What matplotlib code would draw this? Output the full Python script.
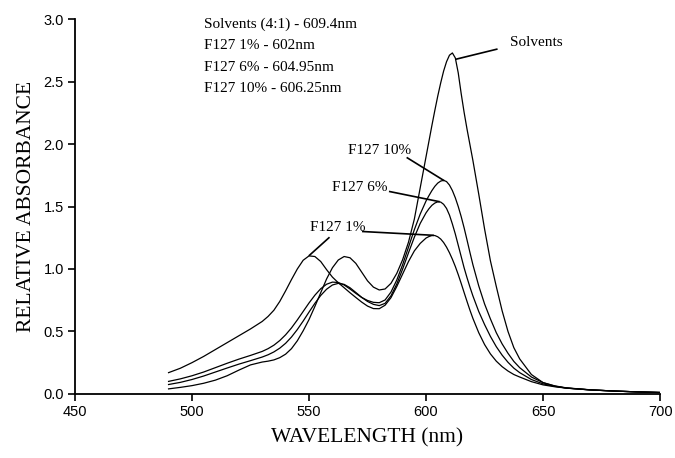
import matplotlib
matplotlib.use('Agg')
import matplotlib.pyplot as plt

plt.rcParams.update({'font.family': 'serif',
                     'font.serif': ['Liberation Serif', 'DejaVu Serif'],
                     'font.sans-serif': ['Liberation Sans', 'DejaVu Sans']})

# wavelength grid (nm) the curves were read at, finer near the red peaks
wavelength = [490, 495, 500, 505, 510, 515, 520, 525, 530,
              532.5, 535, 537.5, 540, 542.5, 545, 547.5, 550, 552.5, 555,
              557.5, 560, 562.5, 565, 567.5, 570, 572.5, 575, 577.5, 580,
              582.5, 585, 587.5, 590, 592.5, 595, 597.5, 600,
              601.25, 602.5, 603.75, 605, 606.25, 607.5, 608.75, 610,
              611.25, 612.5, 613.75, 615, 616.25, 617.5, 618.75, 620,
              622.5, 625, 627.5, 630, 632.5, 635, 637.5, 640,
              645, 650, 655, 660, 670, 680, 690, 700]

solvents = [0.040, 0.052, 0.066, 0.085, 0.110, 0.145, 0.190, 0.232, 0.255,
            0.262, 0.272, 0.290, 0.318, 0.362, 0.425, 0.505, 0.595, 0.700, 0.810,
            0.920, 1.010, 1.072, 1.100, 1.090, 1.045, 0.975, 0.905, 0.855, 0.832,
            0.840, 0.885, 0.965, 1.075, 1.215, 1.400, 1.650, 1.900,
            2.025, 2.150, 2.270, 2.385, 2.490, 2.585, 2.660, 2.712,
            2.730, 2.690, 2.570, 2.405, 2.255, 2.120, 1.995, 1.870,
            1.600, 1.320, 1.065, 0.860, 0.665, 0.500, 0.370, 0.280,
            0.155, 0.090, 0.062, 0.046, 0.032, 0.023, 0.016, 0.011]

f127_1 = [0.170, 0.205, 0.250, 0.300, 0.355, 0.410, 0.465, 0.520, 0.580,
          0.620, 0.670, 0.740, 0.825, 0.915, 1.000, 1.070, 1.105, 1.100, 1.060,
          0.995, 0.935, 0.890, 0.850, 0.810, 0.772, 0.735, 0.703, 0.683, 0.682,
          0.710, 0.770, 0.860, 0.960, 1.060, 1.145, 1.205, 1.248,
          1.260, 1.268, 1.268, 1.258, 1.240, 1.212, 1.175, 1.130,
          1.078, 1.020, 0.955, 0.885, 0.812, 0.740, 0.670, 0.605,
          0.490, 0.395, 0.320, 0.262, 0.218, 0.183, 0.155, 0.135,
          0.098, 0.072, 0.057, 0.046, 0.032, 0.023, 0.016, 0.011]

f127_6 = [0.075, 0.092, 0.115, 0.143, 0.175, 0.207, 0.238, 0.266, 0.295,
          0.313, 0.336, 0.366, 0.405, 0.455, 0.515, 0.583, 0.655, 0.725, 0.788,
          0.838, 0.872, 0.885, 0.877, 0.850, 0.812, 0.773, 0.740, 0.717, 0.707,
          0.725, 0.785, 0.880, 1.000, 1.130, 1.255, 1.365, 1.450,
          1.483, 1.510, 1.528, 1.538, 1.536, 1.518, 1.485, 1.432,
          1.360, 1.280, 1.190, 1.100, 1.010, 0.930, 0.855, 0.785,
          0.660, 0.555, 0.460, 0.378, 0.310, 0.253, 0.206, 0.170,
          0.115, 0.080, 0.060, 0.047, 0.032, 0.023, 0.016, 0.011]

f127_10 = [0.100, 0.120, 0.145, 0.175, 0.210, 0.245, 0.278, 0.308, 0.340,
           0.362, 0.390, 0.427, 0.473, 0.528, 0.592, 0.660, 0.728, 0.790, 0.842,
           0.878, 0.895, 0.892, 0.872, 0.840, 0.805, 0.772, 0.748, 0.733, 0.730,
           0.752, 0.815, 0.912, 1.035, 1.175, 1.315, 1.440, 1.545,
           1.588, 1.628, 1.662, 1.688, 1.704, 1.710, 1.700, 1.672,
           1.628, 1.570, 1.500, 1.420, 1.330, 1.232, 1.132, 1.035,
           0.865, 0.720, 0.600, 0.490, 0.400, 0.325, 0.260, 0.210,
           0.135, 0.090, 0.064, 0.048, 0.033, 0.023, 0.016, 0.011]

peak_notes = ['Solvents (4:1) - 609.4nm', 'F127 1% - 602nm',
              'F127 6% - 604.95nm', 'F127 10% - 606.25nm']

# curve labels: text, text anchor, leader line(s)
curve_labels = [
    ('Solvents', (636, 2.81), [((630.2, 2.76), (612.8, 2.68))]),
    ('F127 10%', (566.5, 1.95), [((592.0, 1.89), (607.5, 1.71))]),
    ('F127 6%', (560.0, 1.65), [((584.5, 1.62), (605.5, 1.54))]),
    ('F127 1%', (550.3, 1.33), [((573.0, 1.30), (603.0, 1.27)),
                                ((558.5, 1.25), (550.2, 1.11))]),
]

fig, ax = plt.subplots(figsize=(6.75, 4.58), dpi=100)
fig.subplots_adjust(left=0.111, right=0.978, bottom=0.14, top=0.958)

for series in [solvents, f127_1, f127_6, f127_10]:
    ax.plot(wavelength, series, color='black', linewidth=0.9)

for label, (tx, ty), leaders in curve_labels:
    ax.text(tx, ty, label, fontsize=11, va='center', ha='left')
    for (x0, y0), (x1, y1) in leaders:
        ax.plot([x0, x1], [y0, y1], color='black', linewidth=1.2)

for i, note in enumerate(peak_notes):
    ax.text(505, 2.96 - i * 0.172, note, fontsize=11, va='center', ha='left')

ax.set_xlim(450, 700)
ax.set_ylim(0, 3.0)
ax.set_xticks([450, 500, 550, 600, 650, 700])
ax.set_yticks([0.0, 0.5, 1.0, 1.5, 2.0, 2.5, 3.0])
ax.set_yticklabels(['0.0', '0.5', '1.0', '1.5', '2.0', '2.5', '3.0'])

for lab in ax.get_xticklabels() + ax.get_yticklabels():
    lab.set_family('sans-serif')
    lab.set_fontsize(10.5)

ax.tick_params(direction='out', length=5, width=1.2, pad=3)
ax.spines['top'].set_visible(False)
ax.spines['right'].set_visible(False)
ax.spines['left'].set_linewidth(1.3)
ax.spines['bottom'].set_linewidth(1.3)

ax.set_xlabel('WAVELENGTH (nm)', fontsize=15.5, labelpad=7)
ax.set_ylabel('RELATIVE ABSORBANCE', fontsize=15.5, labelpad=5)

plt.savefig('out.png', dpi=100)
